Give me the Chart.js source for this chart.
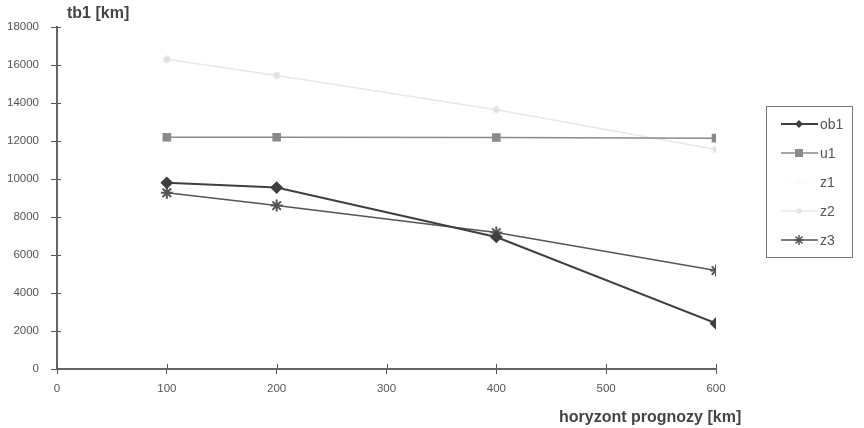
<!DOCTYPE html>
<html>
<head>
<meta charset="utf-8">
<script src="https://cdn.jsdelivr.net/npm/chart.js@4.4.0/dist/chart.umd.min.js"></script>
<style>
  body { margin: 0; background: #fff; }
  #wrap { width: 864px; height: 428px; }
</style>
</head>
<body>
<div id="wrap"><canvas id="line-chart"></canvas></div>
<script>
// horyzont prognozy [km]
var horizons = [100, 200, 400, 600];

var ob1 = [9800, 9550, 6950, 2400];
var u1 = [12200, 12200, 12180, 12150];
var z1 = [];
var z2 = [16300, 15450, 13650, 11550];
var z3 = [9280, 8600, 7180, 5180];

var yTicks = [0, 2000, 4000, 6000, 8000, 10000, 12000, 14000, 16000, 18000];
var xTicks = [0, 100, 200, 300, 400, 500, 600];

var FONT = '"Liberation Sans", Arial, sans-serif';

function pts(vals) {
    return vals.map(function (v, i) { return { x: horizons[i], y: v }; });
}

// marker shapes, used for the legend samples
function drawMarker(c, style, x, y, r, color) {
    c.save();
    c.fillStyle = color;
    c.strokeStyle = color;
    c.lineWidth = 1.5;
    c.beginPath();
    if (style === 'rectRot') {
        c.moveTo(x, y - r); c.lineTo(x + r, y); c.lineTo(x, y + r); c.lineTo(x - r, y);
        c.closePath(); c.fill();
    } else if (style === 'rect') {
        c.rect(x - r, y - r, 2 * r, 2 * r); c.fill();
    } else if (style === 'star') {
        for (var a = 0; a < 4; a++) {
            var ang = a * Math.PI / 4;
            c.moveTo(x - r * Math.cos(ang), y - r * Math.sin(ang));
            c.lineTo(x + r * Math.cos(ang), y + r * Math.sin(ang));
        }
        c.stroke();
    }
    c.restore();
}

var boxLegend = {
    id: 'boxLegend',
    afterDraw: function (chart) {
        var c = chart.ctx;
        var left = 766, top = 106, w = 86, rowH = 29;
        c.save();

        // small tick stubs on the inner side of both axes
        var xs = chart.scales.x, ys = chart.scales.y;
        c.strokeStyle = '#555';
        c.lineWidth = 1;
        c.beginPath();
        xTicks.forEach(function (v) {
            var px = Math.round(xs.getPixelForValue(v)) + 0.5;
            c.moveTo(px, ys.bottom); c.lineTo(px, ys.bottom - 5);
        });
        yTicks.forEach(function (v) {
            var py = Math.round(ys.getPixelForValue(v)) + 0.5;
            c.moveTo(xs.left, py); c.lineTo(xs.left + 4, py);
        });
        c.stroke();

        c.strokeStyle = '#777';
        c.lineWidth = 1;
        c.strokeRect(left + 0.5, top + 0.5, w, 151);
        c.font = '14px ' + FONT;
        c.textBaseline = 'middle';
        chart.data.datasets.forEach(function (ds, i) {
            var y = top + 18 + i * rowH;
            c.strokeStyle = ds.borderColor;
            c.lineWidth = ds.borderWidth;
            c.beginPath();
            c.moveTo(left + 15, y);
            c.lineTo(left + 52, y);
            c.stroke();
            drawMarker(c, ds.pointStyle, left + 33, y, ds.pointRadius - 1, ds.pointBackgroundColor);
            c.fillStyle = '#555';
            c.fillText(ds.label, left + 54, y + 1);
        });
        // axis titles
        c.fillStyle = '#444';
        c.font = 'bold 16px ' + FONT;
        c.textAlign = 'left';
        c.fillText('tb1 [km]', 67, 14);
        c.fillText('horyzont prognozy [km]', 559, 418);
        c.restore();
    }
};

var ctx = document.getElementById('line-chart').getContext('2d');
var myChart = new Chart(ctx, {
    type: 'line',
    data: {
        datasets: [{
            label: 'ob1',
            data: pts(ob1),
            borderColor: '#3f3f3f',
            backgroundColor: '#3f3f3f',
            pointBackgroundColor: '#3f3f3f',
            pointBorderColor: '#3f3f3f',
            pointStyle: 'rectRot',
            pointRadius: 5,
            borderWidth: 2
        }, {
            label: 'u1',
            data: pts(u1),
            borderColor: '#8a8a8a',
            backgroundColor: '#8a8a8a',
            pointBackgroundColor: '#8a8a8a',
            pointBorderColor: '#8a8a8a',
            pointStyle: 'rect',
            pointRadius: 5,
            borderWidth: 1.5
        }, {
            label: 'z1',
            data: pts(z1),
            borderColor: '#fbfbfb',
            backgroundColor: '#fbfbfb',
            pointBackgroundColor: '#fbfbfb',
            pointBorderColor: '#fbfbfb',
            pointStyle: 'star',
            pointRadius: 4,
            borderWidth: 1
        }, {
            label: 'z2',
            data: pts(z2),
            borderColor: '#e8e8e8',
            backgroundColor: '#e8e8e8',
            pointBackgroundColor: '#e8e8e8',
            pointBorderColor: '#e0e0e0',
            pointStyle: 'star',
            pointRadius: 4,
            borderWidth: 1.5
        }, {
            label: 'z3',
            data: pts(z3),
            borderColor: '#555',
            backgroundColor: '#555',
            pointBackgroundColor: '#555',
            pointBorderColor: '#555',
            pointStyle: 'star',
            pointRadius: 6,
            pointBorderWidth: 2,
            borderWidth: 1.5
        }]
    },
    options: {
        responsive: true,
        maintainAspectRatio: false,
        animation: false,
        layout: { padding: { top: 27, right: 148, left: 0, bottom: 0 } },
        plugins: {
            legend: { display: false },
            tooltip: { enabled: false }
        },
        scales: {
            x: {
                type: 'linear',
                min: 0,
                max: 600,
                afterFit: function (s) { s.height = 59; },
                afterBuildTicks: function (s) { s.ticks = xTicks.map(function (v) { return { value: v }; }); },
                grid: { drawOnChartArea: false, tickLength: 5, color: '#555' },
                border: { color: '#666', width: 2 },
                ticks: {
                    padding: 8, color: '#555', font: { size: 11.5, family: FONT },
                    callback: function (v) { return String(v); }
                }
            },
            y: {
                min: 0,
                max: 18000,
                afterFit: function (s) { s.width = 57; },
                afterBuildTicks: function (s) { s.ticks = yTicks.map(function (v) { return { value: v }; }); },
                grid: { drawOnChartArea: false, tickLength: 6, color: '#555' },
                border: { color: '#666', width: 2 },
                ticks: {
                    padding: 12, color: '#555', font: { size: 11.5, family: FONT },
                    callback: function (v) { return String(v); }
                }
            }
        }
    },
    plugins: [boxLegend]
});
</script>
</body>
</html>
